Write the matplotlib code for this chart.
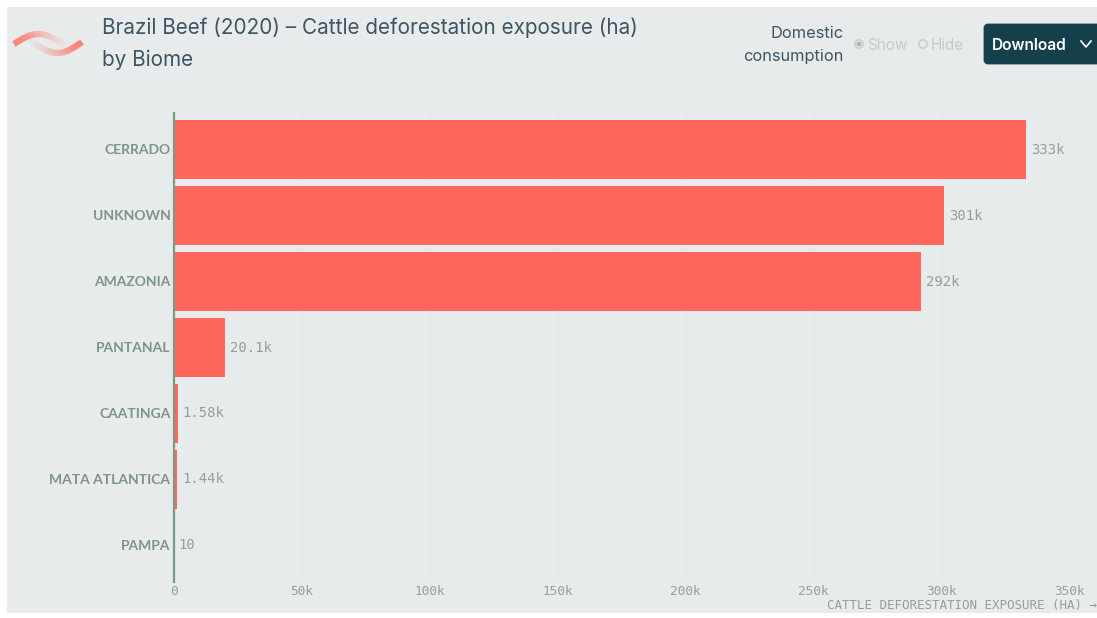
import numpy as np
import matplotlib
matplotlib.use("Agg")
import matplotlib.pyplot as plt
from matplotlib.patches import Rectangle, FancyBboxPatch, Circle
from matplotlib.collections import LineCollection

biomes = ["CERRADO", "UNKNOWN", "AMAZONIA", "PANTANAL", "CAATINGA", "MATA ATLANTICA", "PAMPA"]
exposure = [333000, 301000, 292000, 20100, 1580, 1440, 10]
value_labels = ["333k", "301k", "292k", "20.1k", "1.58k", "1.44k", "10"]
x_ticks = [0, 50000, 100000, 150000, 200000, 250000, 300000, 350000]
x_tick_labels = ["0", "50k", "100k", "150k", "200k", "250k", "300k", "350k"]

W, H = 1097, 618
BG = "#e8ebec"
BAR = "#ff675c"
AXIS = "#7a9a88"
TXT = "#8fa19a"
DARK = "#3e5563"
NAVY = "#163f4c"

fig = plt.figure(figsize=(W / 100, H / 100), dpi=100, facecolor="white")

ov = fig.add_axes([0, 0, 1, 1], zorder=0)
ov.set_xlim(0, W)
ov.set_ylim(H, 0)
ov.axis("off")
ov.add_patch(Rectangle((7, 7), W - 7, H - 12, fc=BG, ec="none"))

L, R, T, B = 173.5, 1069.5, 113, 582
ax = fig.add_axes([L / W, 1 - B / H, (R - L) / W, (B - T) / H], zorder=2)
ax.patch.set_alpha(0)
ax.set_xlim(0, 350000)
y = np.arange(len(biomes))
ax.set_ylim(len(biomes) - 0.5 + 0.055, -0.5 - 0.055)
ax.barh(y, exposure, height=0.9, color=BAR, zorder=2)
ax.set_xticks(x_ticks)
ax.set_xticklabels(x_tick_labels, family="DejaVu Sans Mono", fontsize=9.2, color=TXT)
ax.set_yticks(y)
ax.set_yticklabels([])
ax.tick_params(axis="x", length=0, pad=2.5)
ax.tick_params(axis="y", length=0)
ax.grid(axis="x", color="#e3e7e7", lw=0.8, zorder=1)
ax.set_axisbelow(True)
for s in ["top", "right", "bottom"]:
    ax.spines[s].set_visible(False)
ax.spines["left"].set_color(AXIS)
ax.spines["left"].set_linewidth(1.6)
for yi, name in zip(y, biomes):
    ax.annotate(name, (0, yi), xytext=(-2.2, -0.2), textcoords="offset points",
                va="center", ha="right", family="Lato", fontsize=10,
                color="#7d9488", fontweight="bold")
for yi, v, lab in zip(y, exposure, value_labels):
    ax.annotate(lab, (v, yi), xytext=(3.6, 0), textcoords="offset points",
                va="center", ha="left", family="DejaVu Sans Mono", fontsize=10, color=TXT)

ov.text(1097, 606, "CATTLE DEFORESTATION EXPOSURE (HA) →", family="DejaVu Sans Mono",
        fontsize=9.0, color=TXT, ha="right", va="center", zorder=5)

ov.text(102, 28, "Brazil Beef (2020) – Cattle deforestation exposure (ha)", family="Inter",
        fontsize=14.9, color=DARK, va="center", ha="left")
ov.text(102, 60, "by Biome", family="Inter", fontsize=14.9, color=DARK, va="center", ha="left")

# Logo: two opposed waves, strong at the outer end and fading towards the other
t = np.linspace(0, 1, 80)
w1x = 14 + 56 * t
w1y = 44 - 10 * np.sin(np.pi * t * 1.15)
w2x = 82 - 56 * t
w2y = 42 + 11 * np.sin(np.pi * t * 1.15)
for xs, ys in ((w1x, w1y), (w2x, w2y)):
    pts = np.column_stack([xs, ys]).reshape(-1, 1, 2)
    segs = np.concatenate([pts[:-1], pts[1:]], axis=1)
    cols = np.tile(matplotlib.colors.to_rgba(BAR), (len(segs), 1))
    cols[:, 3] = np.clip(1.05 - t[:-1], 0.02, 0.95) ** 1.6
    ov.add_collection(LineCollection(segs, colors=cols, linewidths=4.5, capstyle="butt"))

ov.text(844, 33, "Domestic", family="Inter", fontsize=11.8, color=DARK, ha="right", va="center")
ov.text(844, 56, "consumption", family="Inter", fontsize=11.8, color=DARK, ha="right", va="center")
ov.add_patch(Circle((859, 44), 4.2, fc="none", ec="#c3cccb", lw=1))
ov.add_patch(Circle((859, 44), 2.4, fc="#aab8b6", ec="none"))
ov.text(867, 45, "Show", family="Inter", fontsize=11, color="#c3cccb", ha="left", va="center")
ov.add_patch(Circle((923, 44), 4.2, fc="none", ec="#c3cccb", lw=1))
ov.text(931, 45, "Hide", family="Inter", fontsize=11, color="#c3cccb", ha="left", va="center")

ov.add_patch(FancyBboxPatch((985, 25), 130, 38, boxstyle="round,pad=0,rounding_size=3",
                            fc=NAVY, ec=NAVY, lw=2))
ov.text(992, 45, "Download", family="Inter", fontsize=11.2, color="white", ha="left",
        va="center", fontweight="semibold")
ov.plot([1081, 1086, 1091], [41, 47, 41], color="white", lw=1.2)
ov.set_xlim(0, W)
ov.set_ylim(H, 0)

fig.savefig("out.png", dpi=100, facecolor="white")
